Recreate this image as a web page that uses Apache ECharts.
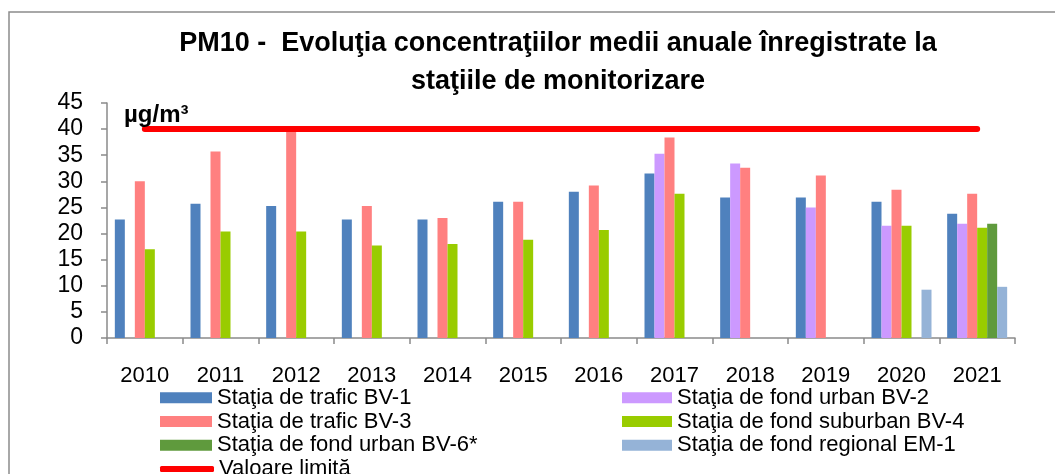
<!DOCTYPE html>
<html>
<head>
<meta charset="utf-8">
<script src="https://cdn.jsdelivr.net/npm/echarts@6/dist/echarts.min.js"></script>
<style>
  html, body { margin: 0; padding: 0; background: #fff; }
  #chart { width: 1055px; height: 474px; }
</style>
</head>
<body>
<div id="chart"></div>
<script>
    // date
    let ani = ['2010','2011','2012','2013','2014','2015','2016','2017','2018','2019','2020','2021'];
    let bv1 = [22.7, 25.7, 25.3, 22.7, 22.7, 26.1, 28.0, 31.5, 26.9, 26.9, 26.1, 23.8];
    let bv2 = [null, null, null, null, null, null, null, 35.3, 33.4, 25.0, 21.5, 21.9];
    let bv3 = [30.0, 35.7, 39.9, 25.3, 23.0, 26.1, 29.2, 38.4, 32.6, 31.1, 28.4, 27.6];
    let bv4 = [17.0, 20.4, 20.4, 17.7, 18.0, 18.8, 20.7, 27.6, null, null, 21.5, 21.1];
    let bv6 = [null, null, null, null, null, null, null, null, null, null, null, 21.9];
    let em1 = [null, null, null, null, null, null, null, null, null, null, 9.25, 9.8];
    let limita = [40, 40, 40, 40, 40, 40, 40, 40, 40, 40, 40, 40];
    let yTicks = [0, 45, 5]; // min, max, pas

    let narrow = "'Liberation Sans Narrow', 'Liberation Sans', Arial, sans-serif";
    let sans = "'Liberation Sans', Arial, sans-serif";

    function bara(nume, date, culoare) {
        return {
            name: nume,
            type: 'bar',
            data: date,
            barWidth: 10,
            barGap: '0%',
            itemStyle: { color: culoare },
            animation: false
        };
    }

    let myChart = echarts.init(document.getElementById('chart'));
    let option = {
        backgroundColor: '#fff',
        title: {
            text: 'PM10 -  Evoluţia concentraţiilor medii anuale înregistrate la\nstaţiile de monitorizare',
            left: 553,
            top: 20,
            textAlign: 'center',
            textStyle: {
                fontFamily: sans,
                fontSize: 27,
                fontWeight: 'bold',
                color: '#000',
                lineHeight: 38
            }
        },
        grid: { left: 107, right: 40, top: 103, bottom: 136, containLabel: false },
        legend: [{
            data: ['Staţia de trafic BV-1', 'Staţia de trafic BV-3', 'Staţia de fond urban BV-6*'],
            orient: 'vertical',
            left: 155,
            top: 381,
            itemWidth: 52,
            itemHeight: 11,
            itemGap: 0,
            icon: 'rect',
            selectedMode: false,
            textStyle: { fontFamily: narrow, fontSize: 22, color: '#000', lineHeight: 23.7 }
        }, {
            data: ['Staţia de fond urban BV-2', 'Staţia de fond suburban BV-4', 'Staţia de fond regional EM-1'],
            orient: 'vertical',
            left: 617,
            top: 381,
            itemWidth: 50,
            itemHeight: 11,
            itemGap: 0,
            icon: 'rect',
            selectedMode: false,
            textStyle: { fontFamily: narrow, fontSize: 22, color: '#000', lineHeight: 23.7 }
        }, {
            data: ['Valoare limită'],
            orient: 'vertical',
            left: 155,
            top: 452,
            itemWidth: 54,
            itemHeight: 6,
            icon: 'roundRect',
            selectedMode: false,
            textStyle: { fontFamily: narrow, fontSize: 22, color: '#000', lineHeight: 24 }
        }],
        xAxis: {
            type: 'category',
            data: ani,
            axisLine: { lineStyle: { color: '#8a8a8a', width: 1.5 } },
            axisTick: { show: true, alignWithLabel: false, length: 6, lineStyle: { color: '#8a8a8a', width: 1.5 } },
            axisLabel: { fontFamily: sans, fontSize: 22, color: '#000', margin: 27, interval: 0 },
            splitLine: { show: false }
        },
        yAxis: {
            type: 'value',
            min: yTicks[0],
            max: yTicks[1],
            interval: yTicks[2],
            axisLine: { show: true, lineStyle: { color: '#8a8a8a', width: 1.5 } },
            axisTick: { show: true, length: 6, lineStyle: { color: '#8a8a8a', width: 1.5 } },
            axisLabel: { fontFamily: sans, fontSize: 23, color: '#000', margin: 24 },
            splitLine: { show: false }
        },
        graphic: [{
            type: 'rect',
            shape: { x: 9, y: 12, width: 1060, height: 480 },
            style: { fill: 'none', stroke: '#8c8c8c', lineWidth: 1.5 },
            silent: true
        }, {
            type: 'text',
            left: 124,
            top: 103,
            style: { text: 'µg/m³', fontFamily: sans, fontSize: 24, fontWeight: 'bold', fill: '#000' },
            z: 10
        }],
        series: [
            bara('Staţia de trafic BV-1', bv1, '#4F81BD'),
            bara('Staţia de fond urban BV-2', bv2, '#CC99FF'),
            bara('Staţia de trafic BV-3', bv3, '#FF8080'),
            bara('Staţia de fond suburban BV-4', bv4, '#99CC00'),
            bara('Staţia de fond urban BV-6*', bv6, '#5F9A3D'),
            bara('Staţia de fond regional EM-1', em1, '#95B3D7'),
            {
                name: 'Valoare limită',
                type: 'line',
                data: limita,
                symbol: 'none',
                z: 5,
                itemStyle: { color: '#FF0000' },
                lineStyle: { color: '#FF0000', width: 6, cap: 'round' },
                animation: false
            }
        ]
    };

    myChart.setOption(option);
</script>
</body>
</html>
